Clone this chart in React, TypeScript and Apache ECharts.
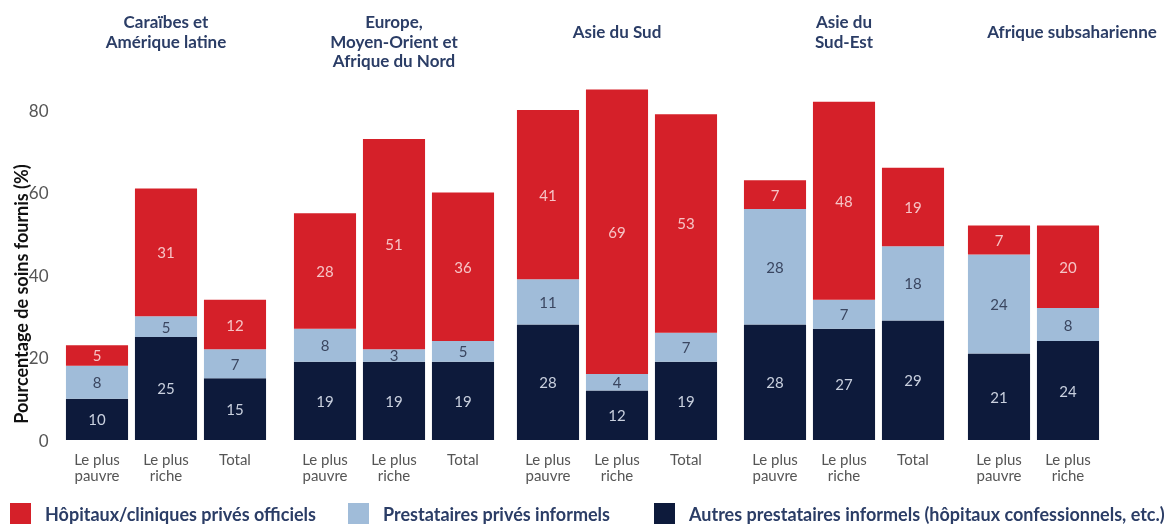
import React, { useEffect, useRef } from "react";
import * as echarts from "echarts";

const regionTitles = [
  "Caraïbes et\nAmérique latine",
  "Europe,\nMoyen-Orient et\nAfrique du Nord",
  "Asie du Sud",
  "Asie du\nSud-Est",
  "Afrique subsaharienne",
];
const categories = [
  ["Le plus\npauvre", "Le plus\nriche", "Total"],
  ["Le plus\npauvre", "Le plus\nriche", "Total"],
  ["Le plus\npauvre", "Le plus\nriche", "Total"],
  ["Le plus\npauvre", "Le plus\nriche", "Total"],
  ["Le plus\npauvre", "Le plus\nriche"],
];
const seriesNames = [
  "Autres prestataires informels (hôpitaux confessionnels, etc.)",
  "Prestataires privés informels",
  "Hôpitaux/cliniques privés officiels",
];
const otherInformal = [[10, 25, 15], [19, 19, 19], [28, 12, 19], [28, 27, 29], [21, 24]];
const informalPrivate = [[8, 5, 7], [8, 3, 5], [11, 4, 7], [28, 7, 18], [24, 8]];
const officialPrivate = [[5, 31, 12], [28, 51, 36], [41, 69, 53], [7, 48, 19], [7, 20]];
const yTicks = [0, 20, 40, 60, 80];
const yAxisTitle = "Pourcentage de soins fournis (%)";

const colors = ["#0d1a3b", "#a0bcd9", "#d52029"];
const labelColors = ["#c9d0de", "#3a4660", "#f6c4c6"];
const FONT = "Lato, 'Noto Sans', sans-serif";

// layout
const gridLefts = [62.5, 290.5, 513.5, 740.5, 964.5];
const slot = 69;
const titleCenters = [166, 394, 617, 844, 1072];
const titleTops = [12, 12, 22, 12, 22];
const legendLefts = [10, 348, 654];

export default function App() {
  const ref = useRef<HTMLDivElement>(null);
  useEffect(() => {
    if (!ref.current) return;
    const chart = echarts.init(ref.current, null, { renderer: "svg" });
    const valuesBySeries = [otherInformal, informalPrivate, officialPrivate];
    const grids: any[] = [];
    const xAxes: any[] = [];
    const yAxes: any[] = [];
    const series: any[] = [];
    categories.forEach((cats, g) => {
      grids.push({
        left: gridLefts[g],
        width: slot * cats.length,
        top: 68.75,
        bottom: 84,
        containLabel: false,
      });
      xAxes.push({
        type: "category",
        gridIndex: g,
        data: cats,
        axisLine: { show: false },
        axisTick: { show: false },
        axisLabel: {
          color: "#555",
          fontSize: 15,
          fontFamily: FONT,
          lineHeight: 16,
          margin: 11,
        },
      });
      yAxes.push({
        type: "value",
        gridIndex: g,
        min: 0,
        max: 90,
        interval: 20,
        show: g === 0,
        splitLine: { show: false },
        axisLine: { show: false },
        axisTick: { show: false },
        axisLabel: {
          show: g === 0,
          color: "#555",
          fontSize: 17,
          fontFamily: FONT,
          margin: 14,
          showMaxLabel: false,
          formatter: (v: number) => (yTicks.includes(v) ? String(v) : ""),
        },
      });
      valuesBySeries.forEach((vals, s) => {
        series.push({
          type: "bar",
          name: seriesNames[s],
          xAxisIndex: g,
          yAxisIndex: g,
          stack: "g" + g,
          barCategoryGap: "10%",
          data: vals[g],
          itemStyle: { color: colors[s] },
          label: {
            show: true,
            position: "inside",
            color: labelColors[s],
            fontSize: 15,
            fontFamily: FONT,
          },
        });
      });
    });
    const legendOrder = [2, 1, 0];
    chart.setOption({
      animation: false,
      grid: grids,
      xAxis: xAxes,
      yAxis: yAxes,
      series,
      legend: legendOrder.map((s, i) => ({
        data: [seriesNames[s]],
        left: legendLefts[i],
        top: 503,
        padding: 0,
        itemWidth: 21,
        itemHeight: 21,
        icon: "rect",
        selectedMode: false,
        textStyle: {
          color: "#2b3d66",
          fontSize: 18,
          fontWeight: "bold",
          fontFamily: FONT,
          padding: [0, 0, 0, 9],
        },
      })),
      graphic: [
        ...regionTitles.map((t, i) => ({
          type: "text",
          x: titleCenters[i],
          y: titleTops[i],
          style: {
            text: t,
            align: "center",
            verticalAlign: "top",
            fill: "#2b3d66",
            font: `bold 17px ${FONT}`,
            lineHeight: 19.5,
          },
        })),
        {
          type: "text",
          x: 21,
          y: 294,
          rotation: Math.PI / 2,
          style: {
            text: yAxisTitle,
            align: "center",
            verticalAlign: "middle",
            fill: "#111",
            font: `bold 18px ${FONT}`,
          },
        },
      ],
    });
    return () => chart.dispose();
  }, []);
  return (
    <div
      ref={ref}
      style={{ position: "fixed", left: 0, top: 0, width: 1166, height: 524 }}
    />
  );
}
